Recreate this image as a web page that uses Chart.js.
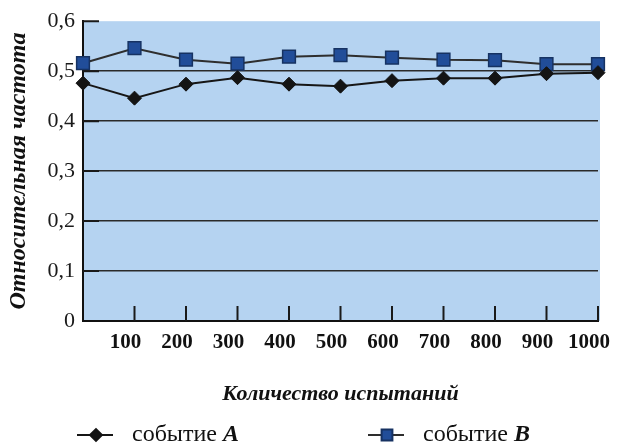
<!DOCTYPE html>
<html>
<head>
<meta charset="utf-8">
<script src="https://cdn.jsdelivr.net/npm/chart.js@4/dist/chart.umd.min.js"></script>
<style>
  html, body { margin: 0; padding: 0; background: #fff; }
  #wrap { position: relative; width: 619px; height: 448px; }
</style>
</head>
<body>
<div id="wrap"><canvas id="freqChart"></canvas></div>
<script>
// Number of trials (first point has no label)
const trials = ['', '100', '200', '300', '400', '500', '600', '700', '800', '900', '1000'];
// Relative frequency of event A and event B
const eventA = [0.476, 0.446, 0.474, 0.487, 0.474, 0.470, 0.481, 0.486, 0.486, 0.495, 0.497];
const eventB = [0.516, 0.546, 0.523, 0.515, 0.529, 0.532, 0.527, 0.523, 0.522, 0.514, 0.514];
const seriesNames = ['событие A', 'событие B'];
const yTicks = [0, 0.1, 0.2, 0.3, 0.4, 0.5, 0.6];

const serif = "'Liberation Serif', 'Times New Roman', serif";

// light blue plot background
const plotBackground = {
    id: 'plotBackground',
    beforeDraw(chart) {
        const { ctx, chartArea: a } = chart;
        ctx.save();
        ctx.fillStyle = '#b5d3f1';
        ctx.fillRect(a.left, a.top, a.right - a.left + 2, a.bottom - a.top);
        ctx.restore();
    }
};

// short tick marks drawn inside the plot, like the book figure
const innerTicks = {
    id: 'innerTicks',
    afterDatasetsDraw(chart) {
        const { ctx, chartArea: a } = chart;
        const xs = chart.scales.x, ys = chart.scales.y;
        ctx.save();
        ctx.strokeStyle = '#1a1a1a';
        ctx.lineWidth = 2;
        ctx.beginPath();
        xs.ticks.forEach((t, i) => {
            if (!trials[i]) return;
            const px = xs.getPixelForTick(i);
            ctx.moveTo(px, a.bottom);
            ctx.lineTo(px, a.bottom - 15);
        });
        ys.ticks.forEach((t, i) => {
            if (t.value === 0) return;
            const py = ys.getPixelForTick(i);
            ctx.moveTo(a.left, py);
            ctx.lineTo(a.left + 16, py);
        });
        ctx.stroke();
        ctx.restore();
    }
};

// legend at the bottom with italic bold letter
const bookLegend = {
    id: 'bookLegend',
    afterDraw(chart) {
        const ctx = chart.ctx;
        const y = chart.height - 13;
        const starts = [77, 368];
        chart.data.datasets.forEach((ds, i) => {
            const x0 = starts[i];
            ctx.save();
            ctx.strokeStyle = ds.borderColor;
            ctx.lineWidth = 2;
            ctx.beginPath();
            ctx.moveTo(x0, y);
            ctx.lineTo(x0 + 36, y);
            ctx.stroke();
            ctx.fillStyle = ds.pointBackgroundColor;
            ctx.strokeStyle = ds.pointBorderColor;
            Chart.helpers.drawPoint(ctx, {
                pointStyle: ds.pointStyle,
                radius: ds.pointRadius * 0.85,
                borderWidth: 1,
                rotation: 0
            }, x0 + 19, y);

            const parts = ds.label.split(' ');
            const word = parts[0] + ' ';
            const letter = parts[1];
            ctx.fillStyle = '#111';
            ctx.textBaseline = 'middle';
            ctx.textAlign = 'left';
            ctx.font = "24px " + serif;
            let tx = x0 + 55;
            ctx.fillText(word, tx, y);
            tx += ctx.measureText(word).width;
            ctx.font = "italic bold 24px " + serif;
            ctx.fillText(letter, tx, y);
            ctx.restore();
        });
    }
};

const chart = new Chart(document.getElementById('freqChart').getContext('2d'), {
    type: 'line',
    data: {
        labels: trials,
        datasets: [{
            label: seriesNames[0],
            data: eventA,
            borderColor: '#161616',
            borderWidth: 2,
            pointStyle: 'rectRot',
            pointRadius: 7,
            pointBackgroundColor: '#141414',
            pointBorderColor: '#141414',
            pointBorderWidth: 1,
            tension: 0,
            clip: false
        }, {
            label: seriesNames[1],
            data: eventB,
            borderColor: '#2e2e2e',
            borderWidth: 2,
            pointStyle: 'rect',
            pointRadius: 9,
            pointBackgroundColor: '#214d99',
            pointBorderColor: '#163262',
            pointBorderWidth: 1.5,
            tension: 0,
            clip: false
        }]
    },
    options: {
        responsive: true,
        maintainAspectRatio: false,
        animation: false,
        layout: {
            padding: { left: 0, right: 21, top: 18, bottom: 35 }
        },
        plugins: {
            legend: { display: false },
            tooltip: { enabled: false }
        },
        scales: {
            x: {
                type: 'category',
                offset: false,
                afterFit(scale) {
                    scale.height = 92;
                    scale.paddingLeft = 0;
                    scale.paddingRight = 0;
                },
                grid: { display: false, drawTicks: false },
                border: { display: true, color: '#111', width: 2 },
                ticks: {
                    autoSkip: false,
                    maxRotation: 0,
                    padding: 9,
                    labelOffset: -9,
                    color: '#111',
                    font: { family: serif, size: 21, weight: 'bold' }
                },
                title: {
                    display: true,
                    text: 'Количество испытаний',
                    color: '#111',
                    padding: { top: 0, bottom: 5 },
                    font: { family: serif, size: 22, weight: 'bold', style: 'italic' }
                }
            },
            y: {
                min: 0,
                max: 0.6,
                afterFit(scale) { scale.width = 83; },
                afterBuildTicks(scale) {
                    scale.ticks = yTicks.map(v => ({ value: v }));
                },
                grid: {
                    drawTicks: false,
                    lineWidth: 1.5,
                    color: (c) => (c.tick && c.tick.value > 0 && c.tick.value < 0.6) ? '#2a2a2a' : 'rgba(0,0,0,0)'
                },
                border: { display: true, color: '#111', width: 2 },
                ticks: {
                    padding: 8,
                    color: '#1a1a1a',
                    font: { family: serif, size: 22 },
                    callback: (v) => v === 0 ? '0' : v.toFixed(1).replace('.', ',')
                },
                title: {
                    display: true,
                    text: 'Относительная частота',
                    color: '#111',
                    padding: { top: 4, bottom: 0 },
                    font: { family: serif, size: 24, weight: 'bold', style: 'italic' }
                }
            }
        }
    },
    plugins: [plotBackground, innerTicks, bookLegend]
});
</script>
</body>
</html>
